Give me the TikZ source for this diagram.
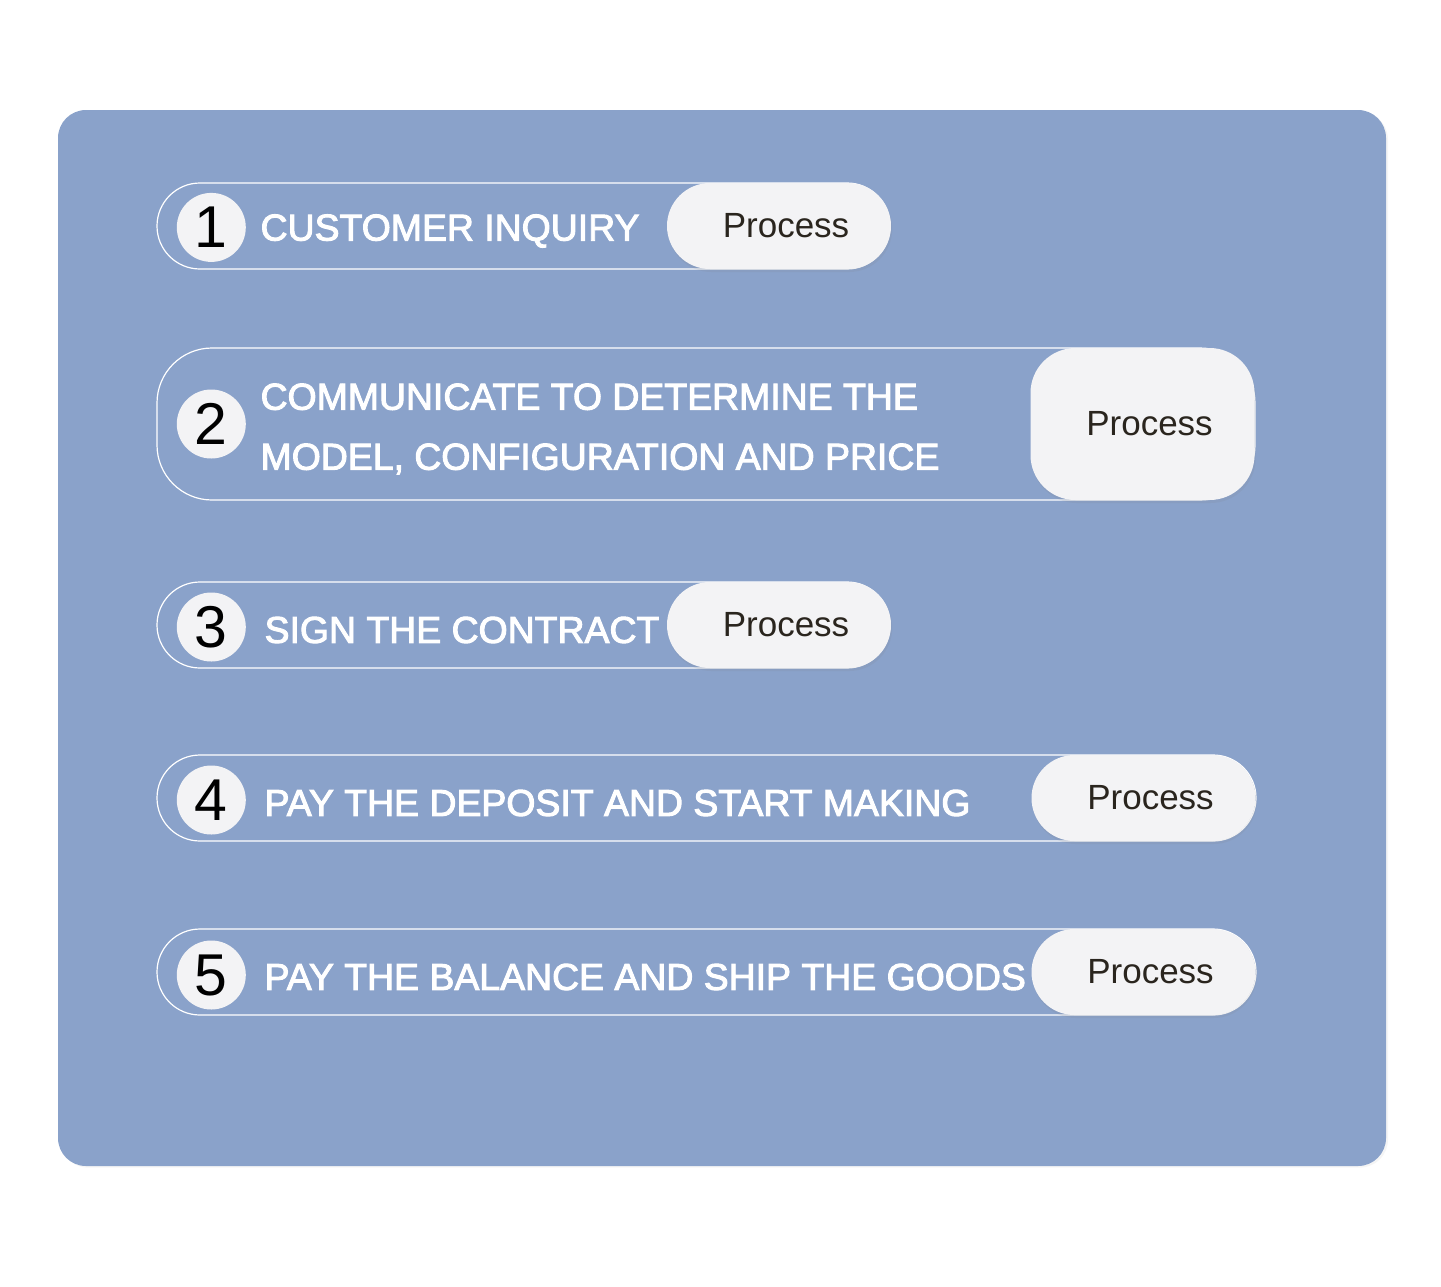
\documentclass[tikz,border=0pt]{standalone}
\usepackage{fontspec}
\setmainfont{Liberation Sans}
\newfontfamily\stepfont[FakeBold=2.6]{Liberation Sans}
\usepackage{tikz}
\usetikzlibrary{shapes,positioning,calc,shadows}

\definecolor{panelblue}{RGB}{138,162,202}
\definecolor{procgray}{RGB}{243,243,245}
\definecolor{proctext}{RGB}{42,37,30}

\tikzstyle{frame} = [draw=white, line width=0.6pt, rounded corners=21.5pt, minimum height=43pt, inner sep=0pt]
\tikzstyle{procbox} = [fill=procgray, rounded corners=21.5pt, minimum width=112pt, minimum height=43pt, inner sep=0pt, text=proctext, font=\fontsize{17.5pt}{20pt}\selectfont, execute at begin node={\hspace*{7pt}}, drop shadow={shadow xshift=0.6pt, shadow yshift=-1.5pt, opacity=0.12}]
\tikzstyle{numdot} = [circle, fill=procgray, minimum size=34.5pt, inner sep=0pt, font=\fontsize{29.5pt}{32pt}\selectfont]
\tikzstyle{steptext} = [text=white, inner sep=0pt, align=left, yshift=-2.5pt, font=\stepfont\fontsize{18.7pt}{30pt}\selectfont]

\begin{document}
\begin{tikzpicture}[x=0.5pt, y=-0.5pt]
    \useasboundingbox (0,0) rectangle (1441,1286);
    \fill[panelblue, rounded corners=14pt, drop shadow={shadow xshift=1pt, shadow yshift=-0.8pt, opacity=0.08}] (58,110) rectangle (1386,1166);

    % outlines
    \node [frame, minimum width=366.5pt] (f1) at (523.5,226) {};
    \node [frame, minimum width=549pt, minimum height=76pt, rounded corners=27.5pt] (f2) at (706,424) {};
    \node [frame, minimum width=366.5pt] (f3) at (523.5,625) {};
    \node [frame, minimum width=549.5pt] (f4) at (706.5,798) {};
    \node [frame, minimum width=549.5pt] (f5) at (706.5,972) {};

    % process tags
    \node [procbox] (p1) at (779,226) {Process};
    \node [procbox, minimum height=76pt, rounded corners=22.5pt] (p2) at (1142.5,424) {Process};
    \node [procbox] (p3) at (779,625) {Process};
    \node [procbox] (p4) at (1143.5,798) {Process};
    \node [procbox] (p5) at (1143.5,972) {Process};

    % numbers
    \node [numdot, right=10pt of f1.west, yshift=-0.7pt] (n1) {1};
    \node [numdot, right=10pt of f2.west] (n2) {2};
    \node [numdot, right=10pt of f3.west, yshift=-1pt] (n3) {3};
    \node [numdot, right=10pt of f4.west, yshift=-1pt] (n4) {4};
    \node [numdot, right=10pt of f5.west, yshift=-1.5pt] (n5) {5};

    % step texts
    \node [steptext, right=7pt of f1.west -| n1.east] (t1) {CUSTOMER INQUIRY};
    \node [steptext, right=7pt of n2] (t2) {COMMUNICATE TO DETERMINE THE\\MODEL, CONFIGURATION AND PRICE};
    \node [steptext, right=9pt of f3.west -| n3.east] (t3) {SIGN THE CONTRACT};
    \node [steptext, right=9pt of f4.west -| n4.east] (t4) {PAY THE DEPOSIT AND START MAKING};
    \node [steptext, right=9pt of f5.west -| n5.east] (t5) {PAY THE BALANCE AND SHIP THE GOODS};
\end{tikzpicture}
\end{document}
